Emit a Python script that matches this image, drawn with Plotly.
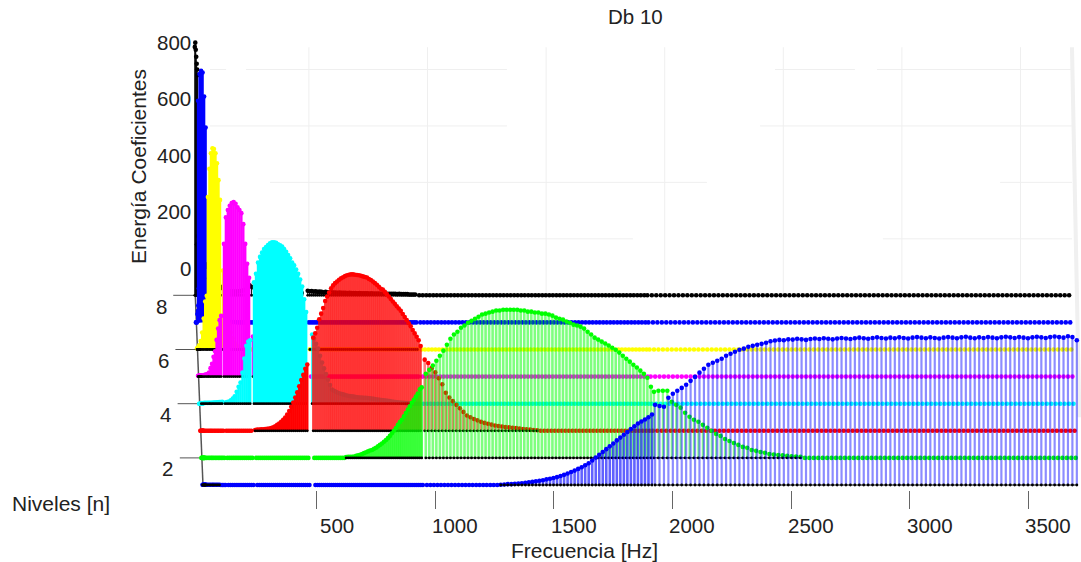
import numpy as np
import plotly.graph_objects as go

# Frequency bands of the decomposition [Hz]: (start, end, stem count)
BAND_EDGES = {"A": (1927, 3705, 96), "B": (965, 1914, 65), "C": (495, 948, 55), "D": (250, 470, 27),
              "E": (128, 234, 14), "F": (65, 116, 9), "G": (28, 60, 6), "H": (19, 33, 8)}
BAND_ORDER = ["H", "G", "F", "E", "D", "C", "B", "A"]
LEVELS = [8, 7, 6, 5, 4, 3, 2, 1]
LEVEL_COLORS = {8: (0, 0, 0), 7: (0, 0, 255), 6: (255, 255, 0), 5: (255, 0, 255),
                4: (0, 255, 255), 3: (255, 0, 0), 2: (0, 255, 0), 1: (0, 0, 255)}
X_TICKS = [500, 1000, 1500, 2000, 2500, 3000, 3500]
Z_TICKS = [0, 200, 400, 600, 800]
LEVEL_TICKS = [2, 4, 6, 8]

L1_A = [284,280,277,309,323,334,344,355,369,383,398,412,426,433,440,447,458,465,472,479,483,490,493,497,500,504,509,
        512,514,513,516,515,518,516,514,517,519,517,520,518,516,519,521,519,517,520,522,520,518,521,523,521,519,522,
        520,523,521,519,522,524,522,520,523,521,519,522,524,522,520,523,525,522,520,523,521,524,522,520,523,525,523,
        521,524,522,520,523,525,523,521,524,526,524,522,527,524,513]
L1_B = [0]*21 + [1,2,3,3,4,5,6,8,10,11,13,15,17,20,22,25,28,32,36,41,46,51,57,63,70,77,87,97,107,117,127,137,147,
                 158,168,178,188,198,208,218,225,232,240,250]
L1_F = [1,1,1,1,1,0,0,0,0]
L1_G = [1,1,1,1,1,1]
L1_H = [1,1,1,1,1,1,1,1]

L2_A = [234,238,238,238,199,188,178,160,146,135,128,117,107,96,85,78,67,60,53,46,39,36,28,25,21,18,14,12,10,9,7,6,5,4]
L2_B = [298,312,327,344,362,380,401,422,437,447,461,469,479,486,493,500,508,511,515,518,522,522,525,525,525,525,525,
        522,522,518,518,515,515,511,511,508,504,497,493,490,483,479,472,469,465,458,447,437,426,419,412,405,398,390,
        383,373,362,351,341,330,320,309,298,284,252]
L2_C = [0]*16 + [3,4,4,4,5,7,9,11,14,17,20,23,26,28,32,36,41,46,51,57,63,70,78,87,96,106,117,127,135,147,159,171,183,
                 195,206,217,228,243,250]

L3_B = [252,240,222,207,186,165,135,118,105,92,80,67,54,48,42,37,32,28,25,22,19,17,15,13,12,11,10,8,6,5,4,3,2]
L3_C = [330,345,365,395,415,435,460,476,490,505,515,523,529,535,540,544,548,551,553,554,554,553,552,551,549,547,545,
        543,538,534,529,523,517,510,503,500,492,484,476,467,458,450,441,433,425,414,403,392,381,370,357,345,333,321,300]
L3_D = [3,4,4,5,5,6,7,8,10,12,16,21,26,32,39,47,58,70,85,100,118,136,158,180,198,220,235]

L4_C = [245,230,212,195,170,146,125,105,85,66,50,46,42,39,36,34,32,30,28,27,26,25,24,23,22,22,21,21,20,19,18,17,16,15,
        14,13,12,11,10,9,8,7,6,5,4,3,3,2,2,1,1]
L4_D = [430,460,500,520,535,548,555,562,568,572,572,570,565,561,557,548,538,527,515,500,490,475,460,440,415,370,325]
L4_E = [4,6,8,12,18,26,42,60,75,110,160,205,220,225]
L4_F = [3,3,4,4,5,5,6,6,7]
L4_G = [2,2,3,3,3,3]

L5_D = [142,110,80,60,45,30,20,15,10,8,6,5,4,3,2,2,1,1]
L5_E = [470,564,590,605,615,618,612,600,590,579,540,470,400,350]
L5_F = [14,30,45,70,90,130,170,200,215]
L5_G = [4,4,5,6,8,10]
L5_H = [3,3,3,3,3,3,4,4]

L6_C = [1]*55
L6_E = [280,200,140,90,60,40,25,15,10,6,4,3,2,1]
L6_F = [540,640,695,713,710,695,660,600,530]
L6_G = [15,30,60,110,170,190]
L6_H = [4,4,5,5,8,8,12,12]

L7_E = [3,3,2,2,2,1,1,1]
L7_F = [85,60,40,25,15,10,6,3,2]
L7_G = [785,880,891,885,800,690]
L7_H = [0,0,0,30,40,60,120,200]

L8_C = [16,14,15,13,14,12,13,12,11,12,11,10,11,10,10,9,10,9,9,9,8,9,8,8,8,7,8,7,7,7,7,6,7,6,6,6,6,5,6,5,5,5,5,5,5,4,5,
        4,4,4,4,3,3,3,3]
L8_D = [35,30,28,25,22,20,18,16,15,14,14,13,13,12,12,11,11,10,10,10,10,9,9,9,9,8,8]
L8_E = [30,25,20,18,16,14,14,13,13,14,15,16,18,20]
L8_F = [110,100,60,40,30,25,35,40,38]
L8_G = [180,60,30,50,90,110]
L8_H = [880,895,870,845,820,800,780,210]

SERIES = {1: {"A": L1_A, "B": L1_B, "F": L1_F, "G": L1_G, "H": L1_H},
          2: {"A": L2_A, "B": L2_B, "C": L2_C},
          3: {"B": L3_B, "C": L3_C, "D": L3_D},
          4: {"C": L4_C, "D": L4_D, "E": L4_E, "F": L4_F, "G": L4_G},
          5: {"D": L5_D, "E": L5_E, "F": L5_F, "G": L5_G, "H": L5_H},
          6: {"C": L6_C, "E": L6_E, "F": L6_F, "G": L6_G, "H": L6_H},
          7: {"E": L7_E, "F": L7_F, "G": L7_G, "H": L7_H},
          8: {"C": L8_C, "D": L8_D, "E": L8_E, "F": L8_F, "G": L8_G, "H": L8_H}}
BLACK_BASELINE = [1, 2, 3, 4, 5, 6, 8]

# Back-wall grid: energy -> spans of frequency where the faint line is visible
GRID_Z = {200: [(285, 1866), (2920, 3717)], 400: [(336, 2178), (3414, 3717)], 600: [(83, 1335), (2402, 3717)],
          800: [(83, 151), (235, 1335), (2465, 2802), (2895, 3717)]}
GRID_F = [500, 1000, 1500, 2000, 2500, 3000, 3500]

PX_PER_HZ, X0_PX, LEVEL1_PX, PX_PER_LEVEL, W, H = 0.2372, 198, 485, 27.1, 1081, 562
SHIFT_HZ, E_PER_LEVEL = 4.64, 96


def X(f, level):
    return np.asarray(f, float) - SHIFT_HZ * (level - 1)


def Y(level, e):
    return level + np.asarray(e, float) / E_PER_LEVEL


def rgba(c, a):
    return f"rgba({c[0]},{c[1]},{c[2]},{a})"


fig = go.Figure()

# back wall grid
for e, spans in GRID_Z.items():
    xs, ys = [], []
    for a, b in spans:
        xs += [float(X(a, 8)), float(X(b, 8)), None]
        ys += [float(Y(8, e)), float(Y(8, e)), None]
    fig.add_trace(go.Scatter(x=xs, y=ys, mode="lines", line=dict(color="#efefef", width=1), hoverinfo="skip"))
xs, ys = [], []
for f in GRID_F:
    xs += [float(X(f, 8)), float(X(f, 8)), None]
    ys += [float(Y(8, 0)), float(Y(8, 800)) + 0.82, None]
fig.add_trace(go.Scatter(x=xs, y=ys, mode="lines", line=dict(color="#efefef", width=1), hoverinfo="skip"))
fig.add_trace(go.Scatter(x=[float(X(3717, 8)), float(X(3725, 3))], y=[float(Y(8, 800)) + 0.82, float(Y(3.5, 0))],
                         mode="lines", line=dict(color="#f0f0f0", width=4), hoverinfo="skip"))

# level axis and level ticks
fig.add_trace(go.Scatter(x=[float(X(21, 1)), float(X(21, 8))], y=[1, 8], mode="lines",
                         line=dict(color="#555555", width=1.5), hoverinfo="skip"))
tx, ty = [], []
for n in LEVEL_TICKS:
    tx += [float(X(-72, n)), float(X(21, n)), None]
    ty += [n, n, None]
fig.add_trace(go.Scatter(x=tx, y=ty, mode="lines", line=dict(color="#555555", width=1), hoverinfo="skip"))

for n in LEVELS:
    col = LEVEL_COLORS[n]
    fx, fy, bx, by = [], [], [], []
    for b in BAND_ORDER:
        a0, a1, cnt = BAND_EDGES[b]
        vals = list(SERIES[n].get(b, []))
        vals = vals + [0] * (cnt - len(vals))
        grid = X(np.linspace(a0, a1, cnt), n)
        sx, sy = [], []
        for g, v in zip(grid, vals):
            fx.append(float(g))
            fy.append(float(Y(n, v)))
            if v > 0:
                sx += [float(g), float(g), None]
                sy += [float(n), float(Y(n, v)), None]
                bx.append(float(g))
                by.append(float(n))
            else:
                if bx and bx[-1] is not None:
                    bx.append(None)
                    by.append(None)
        if bx and bx[-1] is not None:
            bx.append(None)
            by.append(None)
        if sx:
            if n == 8:
                a, w = 1, 1
            elif b == "A":
                a, w = 0.45, 2.2
            elif b == "B":
                a, w = (0.62 if n == 1 else 0.5), 2.6
            elif b == "C":
                a, w = 0.78, 2.2
            else:
                a, w = 1, 2.4
            fig.add_trace(go.Scatter(x=sx, y=sy, mode="lines", line=dict(color=rgba(col, a), width=w),
                                     hoverinfo="skip"))
    fig.add_trace(go.Scatter(x=fx, y=fy, mode="markers", marker=dict(color=rgba(col, 1), size=4.6),
                             name=f"Nivel {n}"))
    if n in BLACK_BASELINE:
        fig.add_trace(go.Scatter(x=bx, y=by, mode="lines+markers", line=dict(color="#000000", width=1),
                                 marker=dict(color="#000000", size=2.8), hoverinfo="skip"))

TEXT = "#222222"
ann = []
for f in X_TICKS:
    ann.append(dict(x=f, y=1, text=str(f), showarrow=False, xshift=20, yshift=-40,
                    font=dict(size=20.5, color=TEXT)))
for e in Z_TICKS:
    ann.append(dict(x=float(X(21, 8)), y=float(Y(8, e)), text=str(e), showarrow=False, xanchor="right",
                    xshift=-2, yshift=27, font=dict(size=20.5, color=TEXT)))
for n in LEVEL_TICKS:
    ann.append(dict(x=float(X(-72, n)), y=n, text=str(n), showarrow=False, xshift=-12, yshift=-11,
                    font=dict(size=20.5, color=TEXT)))
for txt, px, py, size, angle in [("Db 10", 635, 17, 20.5, 0), ("Frecuencia [Hz]", 584, 550, 21, 0),
                                 ("Niveles [n]", 61, 503, 21, 0), ("Energía Coeficientes", 138, 167, 21, -90)]:
    ann.append(dict(xref="paper", yref="paper", x=px / W, y=1 - py / H, text=txt, showarrow=False,
                    xanchor="center", yanchor="middle", textangle=angle, font=dict(size=size, color=TEXT)))

fig.update_layout(
    width=W, height=H, margin=dict(l=0, r=0, t=0, b=0), showlegend=False,
    paper_bgcolor="white", plot_bgcolor="white",
    font=dict(family="Liberation Sans, Arial, sans-serif"), annotations=ann,
    xaxis=dict(range=[-X0_PX / PX_PER_HZ, (W - X0_PX) / PX_PER_HZ], tickvals=X_TICKS, ticks="outside", ticklen=18,
               tickcolor="#666666", tickwidth=1, showticklabels=False, showgrid=False, zeroline=False,
               showline=False, anchor="free", position=(H - 490) / H),
    yaxis=dict(range=[1 - (H - LEVEL1_PX) / PX_PER_LEVEL, 1 + LEVEL1_PX / PX_PER_LEVEL], visible=False),
)
fig.write_html("out.html", config={"displayModeBar": False},
               post_script="document.body.style.margin='0';document.body.style.overflow='hidden';")
